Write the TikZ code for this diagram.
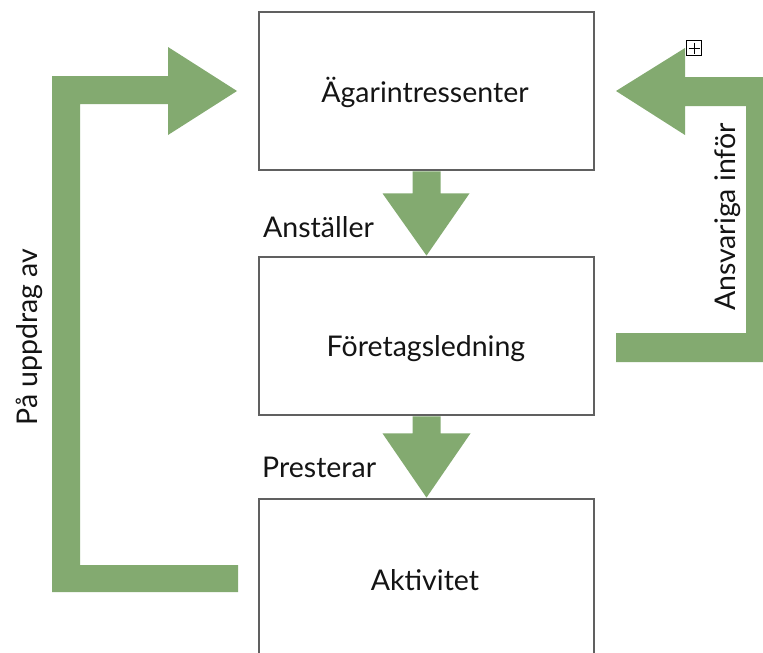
\documentclass[tikz,border=0pt]{standalone}
\usepackage{fontspec}
\setmainfont{Lato}
\usetikzlibrary{calc}
\definecolor{leaf}{RGB}{131,170,112}
\definecolor{frame}{RGB}{96,96,96}
\definecolor{ink}{RGB}{20,20,20}

\begin{document}
\begin{tikzpicture}[x=1pt,y=-1pt,
  box/.style={draw=frame, line width=2.8pt, minimum width=335pt, minimum height=158pt, inner sep=0pt},
  caption/.style={text=ink, font=\fontsize{28.5}{32}\selectfont, inner sep=0pt},
  blockarrow/.style={fill=leaf, draw=none}]
  \path[use as bounding box] (0,0) rectangle (763,653);
  \clip (0,0) rectangle (763,653);

  % the three stages
  \node[box] (owners) at (426.5,91) {};
  \node[box] (mgmt)   at (426.5,336) {};
  \node[box] (act)    at (426.5,578) {};

  \node[caption] (ownersT) at (425,92)  {Ägarintressenter};
  \node[caption] (mgmtT)   at (426,349) {Företagsledning};
  \node[caption] (actT)    at (425,580) {Aktivitet};

  % downward block arrows between the stages
  \fill[blockarrow] ($(owners.south)+(-14,0)$) -- ($(owners.south)+(14,0)$)
     -- ($(owners.south)+(14,22)$) -- ($(owners.south)+(43,22)$)
     -- (mgmt.north) -- ($(owners.south)+(-44,22)$)
     -- ($(owners.south)+(-14,22)$) -- cycle;
  \fill[blockarrow] ($(mgmt.south)+(-14,0)$) -- ($(mgmt.south)+(14,0)$)
     -- ($(mgmt.south)+(14,17)$) -- ($(mgmt.south)+(44,17)$)
     -- (act.north) -- ($(mgmt.south)+(-44,17)$)
     -- ($(mgmt.south)+(-14,17)$) -- cycle;

  \node[caption, anchor=base west] (hires) at (263,237) {Anställer};
  \node[caption, anchor=base west] (perf)  at (262,477) {Presterar};

  % feedback loop on the left: from the activity back to the owners
  \coordinate (lTip) at (237,91);
  \fill[blockarrow] (238,592) -- (52,592) -- (52,76) -- (168,76) -- (168,47)
     -- (lTip) -- (168,135) -- (168,104) -- (80,104) -- (80,565) -- (238,565) -- cycle;
  \node[caption, rotate=90] (mandate) at (29,337) {På uppdrag av};

  % accountability loop on the right: from management back to the owners
  \coordinate (rTip) at (616,91);
  \fill[blockarrow] (616,362) -- (774,362) -- (774,77) -- (685,77) -- (685,48)
     -- (rTip) -- (685,135) -- (685,106) -- (746,106) -- (746,333) -- (616,333) -- cycle;
  \node[caption, rotate=90] (account) at (728,217) {Ansvariga inför};

  % small expand marker
  \node[draw=black, fill=white, line width=0.8pt, minimum size=15pt, inner sep=0pt] (plusbox) at (694,48) {};
  \draw[line width=0.8pt] ($(plusbox.center)+(-5.5,0)$) -- ($(plusbox.center)+(5.5,0)$);
  \draw[line width=0.8pt] ($(plusbox.center)+(0,-5.5)$) -- ($(plusbox.center)+(0,5.5)$);
\end{tikzpicture}
\end{document}
